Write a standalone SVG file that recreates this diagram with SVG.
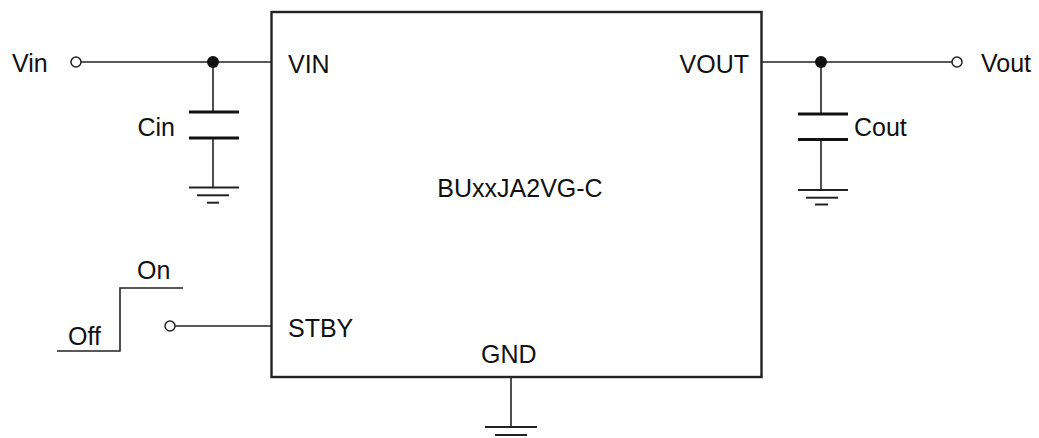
<svg xmlns="http://www.w3.org/2000/svg" width="1039" height="438" viewBox="0 0 1039 438">
<style>
text{font-family:"Liberation Sans",Arial,sans-serif;font-size:25px;fill:#111}
.w{stroke:#222;stroke-width:1.6;fill:none}
.box{stroke:#222;stroke-width:2.4;fill:none}
.plate{stroke:#111;stroke-width:3.2}
.gnd{stroke:#222;stroke-width:2}
.term{fill:#fff;stroke:#222;stroke-width:1.5}
.dot{fill:#111}
</style>
<rect width="1039" height="438" fill="#fff"/>
<g id="ic">
<rect class="box" x="271.5" y="12" width="490" height="365"/>
<text x="288" y="73">VIN</text>
<text x="749" y="73" text-anchor="end">VOUT</text>
<text x="288" y="337">STBY</text>
<text x="481" y="363">GND</text>
<text x="520" y="197" text-anchor="middle">BUxxJA2VG-C</text>
</g>
<g id="connectors">
<line class="w" x1="81" y1="62" x2="271" y2="62"/>
<line class="w" x1="761" y1="62" x2="952" y2="62"/>
<line class="w" x1="213" y1="62" x2="213" y2="112"/>
<line class="w" x1="213" y1="138" x2="213" y2="187"/>
<line class="w" x1="821" y1="62" x2="821" y2="114"/>
<line class="w" x1="821" y1="139.5" x2="821" y2="190"/>
<line class="w" x1="175" y1="326" x2="271" y2="326"/>
<line class="w" x1="511" y1="377" x2="511" y2="427"/>
</g>
<g id="vin">
<circle class="term" cx="76" cy="62" r="5"/>
<text x="12" y="72">Vin</text>
<circle class="dot" cx="213" cy="62" r="6"/>
</g>
<g id="cin">
<line class="plate" x1="189" y1="112" x2="239" y2="112"/>
<line class="plate" x1="189" y1="138" x2="239" y2="138"/>
<text x="175" y="136" text-anchor="end">Cin</text>
<line class="gnd" x1="189" y1="187.5" x2="239" y2="187.5"/>
<line class="gnd" x1="197" y1="195.3" x2="229" y2="195.3"/>
<line class="gnd" x1="207" y1="202.7" x2="219" y2="202.7"/>
</g>
<g id="vout">
<circle class="dot" cx="821" cy="62" r="6"/>
<circle class="term" cx="957" cy="62" r="5"/>
<text x="981" y="72">Vout</text>
</g>
<g id="cout">
<line class="plate" x1="798" y1="114" x2="848" y2="114"/>
<line class="plate" x1="798" y1="139.5" x2="848" y2="139.5"/>
<text x="854" y="136">Cout</text>
<line class="gnd" x1="798" y1="190" x2="848" y2="190"/>
<line class="gnd" x1="806" y1="197.7" x2="838" y2="197.7"/>
<line class="gnd" x1="815" y1="204.5" x2="828" y2="204.5"/>
</g>
<g id="switch">
<polyline class="w" points="57,351 120,351 120,288 183,288"/>
<circle class="term" cx="170" cy="326" r="5"/>
<text x="137" y="279">On</text>
<text x="68" y="345">Off</text>
</g>
<g id="gnd">
<line class="gnd" x1="485" y1="427" x2="537" y2="427"/>
<line class="gnd" x1="495" y1="435" x2="527" y2="435"/>
</g>
</svg>
